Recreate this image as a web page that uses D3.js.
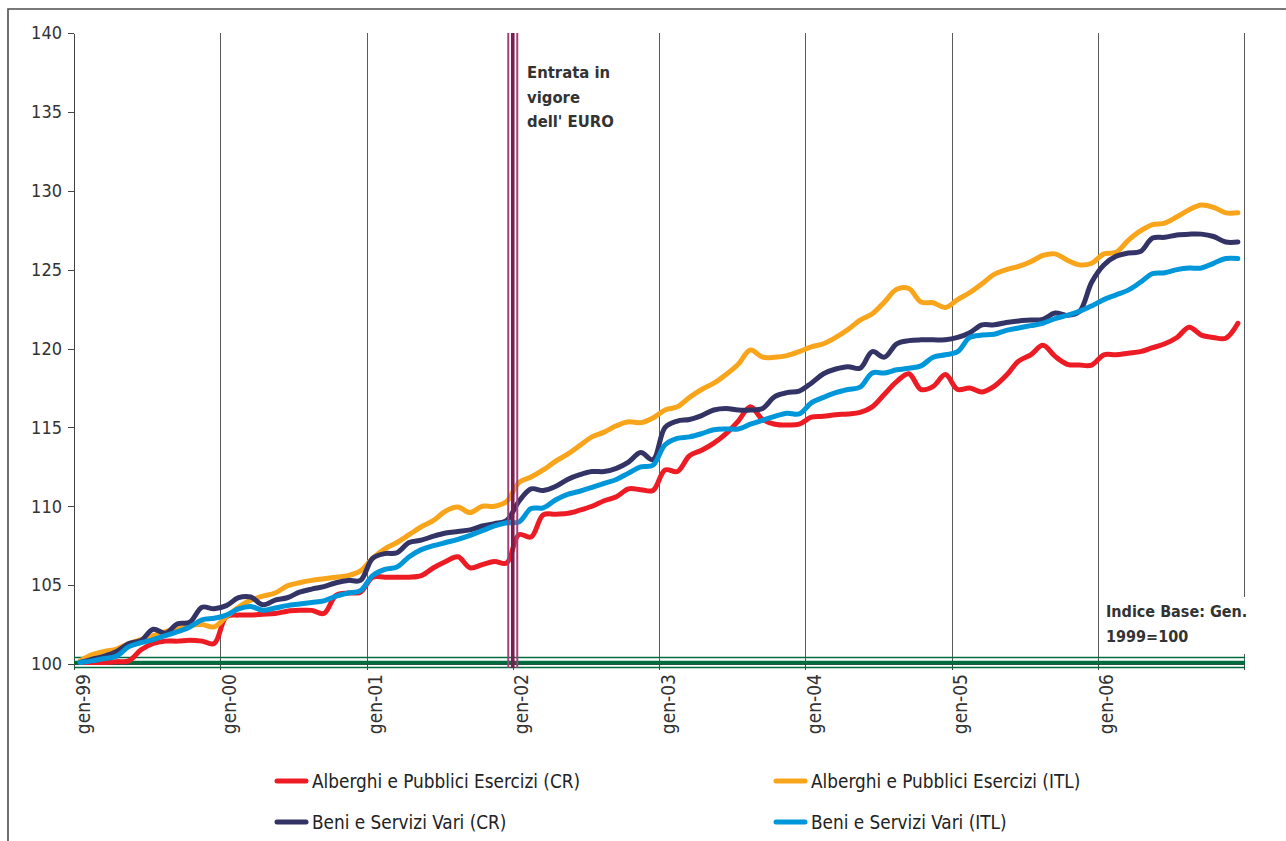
<!DOCTYPE html>
<html><head><meta charset="utf-8">
<script src="https://cdn.jsdelivr.net/npm/d3@7"></script>
<style>
body{margin:0;background:#fff}
svg{display:block}
text{font-family:"DejaVu Sans Condensed","Liberation Sans",Arial,sans-serif}
</style>
</head><body>
<svg id="c" width="1286" height="841"></svg>
<script>
// ---- data ----
const xLabels = ["gen-99","gen-00","gen-01","gen-02","gen-03","gen-04","gen-05","gen-06"];
const yTicks = [100,105,110,115,120,125,130,135,140];
const seriesNames = ["Alberghi e Pubblici Esercizi (CR)","Alberghi e Pubblici Esercizi (ITL)","Beni e Servizi Vari (CR)","Beni e Servizi Vari (ITL)"];
const seriesColors = ["#ED1C24","#F9A51B","#333366","#0096DA"];
const alberghiCR = [
 100.1,100.1,100.1,100.15,100.2,100.9,101.3,101.45,101.45,101.5,101.45,101.3,
 103.0,103.1,103.1,103.15,103.2,103.35,103.4,103.4,103.2,104.35,104.5,104.55,
 105.5,105.5,105.5,105.5,105.6,106.1,106.5,106.8,106.1,106.3,106.5,106.4,
 108.2,108.05,109.45,109.5,109.55,109.75,110.0,110.35,110.6,111.1,111.05,111.0,
 112.3,112.2,113.2,113.55,114.0,114.6,115.4,116.3,115.5,115.2,115.15,115.2,
 115.65,115.7,115.8,115.85,115.95,116.3,117.1,117.9,118.4,117.4,117.6,118.35,
 117.4,117.5,117.25,117.6,118.3,119.2,119.6,120.2,119.5,119.0,118.95,118.95,
 119.6,119.6,119.7,119.8,120.05,120.3,120.7,121.35,120.85,120.7,120.65,121.6];
const alberghiITL = [
 100.2,100.6,100.8,100.95,101.3,101.55,101.8,102.05,102.3,102.45,102.5,102.35,
 103.0,103.6,104.05,104.3,104.5,104.95,105.15,105.3,105.4,105.5,105.6,105.9,
 106.7,107.3,107.7,108.2,108.7,109.1,109.7,109.95,109.6,110.0,110.0,110.3,
 111.5,111.85,112.3,112.85,113.3,113.85,114.4,114.7,115.1,115.35,115.3,115.6,
 116.1,116.3,116.9,117.4,117.8,118.35,119.0,119.9,119.45,119.45,119.55,119.8,
 120.1,120.3,120.7,121.2,121.8,122.2,122.95,123.75,123.8,122.95,122.9,122.6,
 123.1,123.55,124.1,124.7,125.0,125.2,125.5,125.9,126.0,125.6,125.3,125.4,
 126.0,126.1,126.85,127.45,127.85,127.95,128.35,128.8,129.1,128.95,128.6,128.6];
const beniCR = [
 100.1,100.3,100.5,100.8,101.3,101.5,102.2,101.95,102.55,102.65,103.6,103.5,
 103.7,104.2,104.25,103.75,104.05,104.2,104.55,104.75,104.9,105.15,105.3,105.3,
 106.7,107.0,107.05,107.7,107.85,108.1,108.3,108.4,108.5,108.75,108.9,109.1,
 110.3,111.1,111.0,111.25,111.7,112.0,112.2,112.2,112.4,112.8,113.4,112.95,
 115.0,115.4,115.5,115.75,116.1,116.2,116.1,116.1,116.2,116.95,117.2,117.3,
 117.8,118.4,118.7,118.85,118.75,119.8,119.45,120.3,120.5,120.55,120.55,120.55,
 120.7,121.0,121.5,121.5,121.65,121.75,121.8,121.85,122.25,122.1,122.35,124.2,
 125.3,125.85,126.05,126.15,127.0,127.05,127.2,127.25,127.25,127.1,126.75,126.75];
const beniITL = [
 100.1,100.2,100.35,100.5,101.1,101.35,101.55,101.8,102.05,102.35,102.8,102.9,
 103.1,103.5,103.65,103.4,103.55,103.7,103.8,103.9,104.0,104.3,104.5,104.65,
 105.6,106.0,106.15,106.8,107.25,107.5,107.7,107.9,108.15,108.45,108.75,108.95,
 109.0,109.85,109.9,110.4,110.75,110.95,111.2,111.45,111.7,112.1,112.5,112.6,
 113.9,114.3,114.4,114.6,114.85,114.9,114.9,115.2,115.45,115.7,115.9,115.85,
 116.55,116.9,117.2,117.4,117.55,118.45,118.45,118.65,118.75,118.9,119.45,119.6,
 119.8,120.7,120.85,120.9,121.15,121.3,121.45,121.6,121.9,122.1,122.35,122.7,
 123.1,123.4,123.7,124.2,124.75,124.8,125.0,125.1,125.1,125.4,125.7,125.7];
const seriesValues = [alberghiCR, alberghiITL, beniCR, beniITL];
const baseValue = 100;          // Indice Base: Gen. 1999 = 100
const euroMonth = 36;           // gen-02
const annotEuro = ["Entrata in","vigore","dell' EURO"];
const annotBase = ["Indice Base: Gen.","1999=100"];

// ---- drawing ----
const svg = d3.select("#c");
const x = d3.scaleLinear().domain([0,96]).range([74,1244]);
const y = d3.scaleLinear().domain([100,140]).range([664,33]);
const plotTop = y(140), plotBottom = y(100);

// outer border
svg.append("path").attr("d","M8,841 V9 H1286").attr("fill","none").attr("stroke","#4d4d4d").attr("stroke-width",1.6);

// vertical gridlines
const grid = svg.append("g").attr("transform",`translate(0,${plotBottom})`)
  .call(d3.axisBottom(x).tickValues(d3.range(12,97,12)).tickSize(-(plotBottom-plotTop)).tickFormat(""));
grid.select(".domain").remove();
grid.selectAll(".tick line").attr("stroke","#5a5a5a").attr("stroke-width",1).attr("shape-rendering","crispEdges");

// x tick marks
const gx = svg.append("g").attr("transform",`translate(0,${plotBottom})`)
  .call(d3.axisBottom(x).tickValues(d3.range(0,97,12)).tickSize(6).tickSizeOuter(0).tickFormat(""));
gx.select(".domain").attr("stroke","#444");
gx.selectAll(".tick line").attr("stroke","#444").attr("shape-rendering","crispEdges");

const FONT = '"DejaVu Sans Condensed","Liberation Sans",Arial,sans-serif';

// x labels (rotated)
svg.append("g").selectAll("text").data(xLabels).join("text")
  .attr("transform",(d,i)=>`translate(${x(i*12)},${plotBottom}) rotate(-90)`)
  .attr("x",-10).attr("y",15.5)
  .attr("text-anchor","end").attr("font-size",19).attr("fill","#333")
  .text(d=>d);

// y axis
const gy = svg.append("g").attr("transform",`translate(74,0)`)
  .call(d3.axisLeft(y).tickValues(yTicks).tickSize(6).tickSizeOuter(0).tickPadding(6));
gy.select(".domain").attr("stroke","#444").attr("shape-rendering","crispEdges");
gy.selectAll(".tick line").attr("stroke","#444").attr("shape-rendering","crispEdges");
gy.selectAll("text").attr("font-size",18).attr("fill","#333").attr("font-family",FONT);

// white box behind base annotation
svg.append("rect").attr("x",1103).attr("y",597).attr("width",150).attr("height",57).attr("fill","#fff");

// base line (triple green)
const yb = y(baseValue);
[{o:-6.5,w:1.6},{o:-1.4,w:3.6},{o:3.5,w:1.6}].forEach(l=>{
  svg.append("line").attr("x1",x(0)).attr("x2",x(96)+1)
    .attr("y1",yb+l.o).attr("y2",yb+l.o)
    .attr("stroke","#006B3C").attr("stroke-width",l.w);
});

// series
const line = d3.line().x((d,i)=>x(i+0.5)).y(d=>y(d)).curve(d3.curveCatmullRom.alpha(0.5));
seriesValues.forEach((vals,k)=>{
  svg.append("path").datum(vals).attr("d",line)
    .attr("fill","none").attr("stroke",seriesColors[k]).attr("stroke-width",5)
    .attr("stroke-linejoin","round").attr("stroke-linecap","round");
});

// euro lines (triple purple)
const xe = x(euroMonth);
[{o:-4.5,w:2,c:"#A2407A"},{o:0,w:3.6,c:"#7A1D4F"},{o:4.5,w:2,c:"#A2407A"}].forEach(l=>{
  svg.append("line").attr("x1",xe+l.o).attr("x2",xe+l.o)
    .attr("y1",plotTop).attr("y2",plotBottom+4)
    .attr("stroke",l.c).attr("stroke-width",l.w);
});

// annotations
svg.append("g").selectAll("text").data(annotEuro).join("text")
  .attr("x",527).attr("y",(d,i)=>78+i*24.5)
  .attr("font-size",16.5).attr("font-weight","bold").attr("fill","#333")
  .text(d=>d);
svg.append("g").selectAll("text").data(annotBase).join("text")
  .attr("x",1106).attr("y",(d,i)=>617+i*25)
  .attr("font-size",16).attr("font-weight","bold").attr("fill","#333")
  .text(d=>d);

// legend
const legPos = [{x:277,y:781},{x:776,y:781},{x:277,y:822},{x:776,y:822}];
const leg = svg.append("g").selectAll("g").data(seriesNames).join("g")
  .attr("transform",(d,i)=>`translate(${legPos[i].x},${legPos[i].y})`);
leg.append("line").attr("x1",0).attr("x2",29).attr("y1",0).attr("y2",0)
  .attr("stroke",(d,i)=>seriesColors[i]).attr("stroke-width",5).attr("stroke-linecap","round");
leg.append("text").attr("x",35).attr("y",6.8).attr("font-size",18.8).attr("fill","#222")
  .text(d=>d);
</script>
</body></html>
